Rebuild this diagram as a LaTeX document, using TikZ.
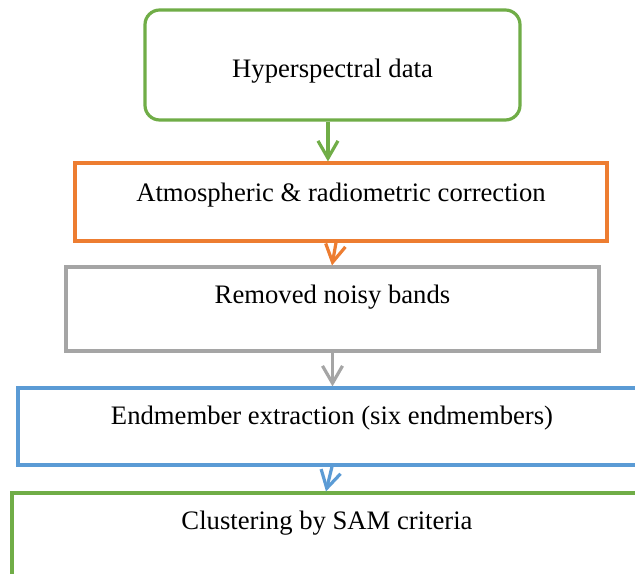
\documentclass[tikz,border=0pt]{standalone}
\usepackage{fontspec}
\setmainfont{Liberation Serif}
\usetikzlibrary{positioning, arrows.meta}
\definecolor{hsgreen}{HTML}{70AD47}
\definecolor{hsorange}{HTML}{ED7D31}
\definecolor{hsgray}{HTML}{A5A5A5}
\definecolor{hsblue}{HTML}{5B9BD5}
\tikzset{
x=0.75pt, y=-0.75pt, % one unit is one pixel of the page
stagebox/.style={draw, line width=2.4pt, minimum width=#1, inner sep=0pt}, % every stage of the chain
stagetext/.style={font=\fontsize{20}{24}\selectfont, inner sep=0pt}, % its caption
flow/.style={line width=2.4pt, -{Straight Barb[length=13pt, width=15pt, line width=2.4pt]}}, % open arrow heads
}
\begin{document}
\begin{tikzpicture}
\clip (0,0) rectangle (635,574);
\fill[white] (0,0) rectangle (635,574);

\node[stagebox=281.25pt, minimum height=82.5pt, rounded corners=11pt, hsgreen] (data) at (332.5,65) {};
\node[stagebox=399pt, minimum height=58.5pt, hsorange] (atmos) at (341,202) {};
\node[stagebox=399.75pt, minimum height=63pt, hsgray] (noisy) at (332.5,309) {};
\node[stagebox=474pt, minimum height=57.75pt, hsblue] (endm) at (334,426.5) {};
\node[stagebox=478.5pt, minimum height=87.75pt, hsgreen] (sam) at (331,551.5) {};

\node[stagetext] (datatext) at ([yshift=-4.5pt]data.center) {Hyperspectral data};
\node[stagetext] (atmostext) at ([yshift=-25pt]atmos.north) {Atmospheric \& radiometric correction};
\node[stagetext] (noisytext) at ([yshift=-24pt]noisy.north) {Removed noisy bands};
\node[stagetext] (endmtext) at ([xshift=-1.5pt, yshift=-24pt]endm.north) {Endmember extraction (six endmembers)};
\node[stagetext] (samtext) at ([xshift=-3pt, yshift=-24pt]sam.north) {Clustering by SAM criteria};

\draw[flow, hsgreen] ([xshift=-3.4pt]data.south) -- ([xshift=-3.4pt]data.south |- atmos.north);
\draw[flow, hsorange] ([xshift=-3.75pt]atmos.south) -- ([xshift=-6.75pt]atmos.south |- noisy.north);
\draw[flow, hsgray] (noisy.south) -- (noisy.south |- endm.north);
\draw[flow, hsblue] ([xshift=-1.5pt]endm.south) -- ([xshift=-6pt]endm.south |- sam.north);
\end{tikzpicture}
\end{document}
